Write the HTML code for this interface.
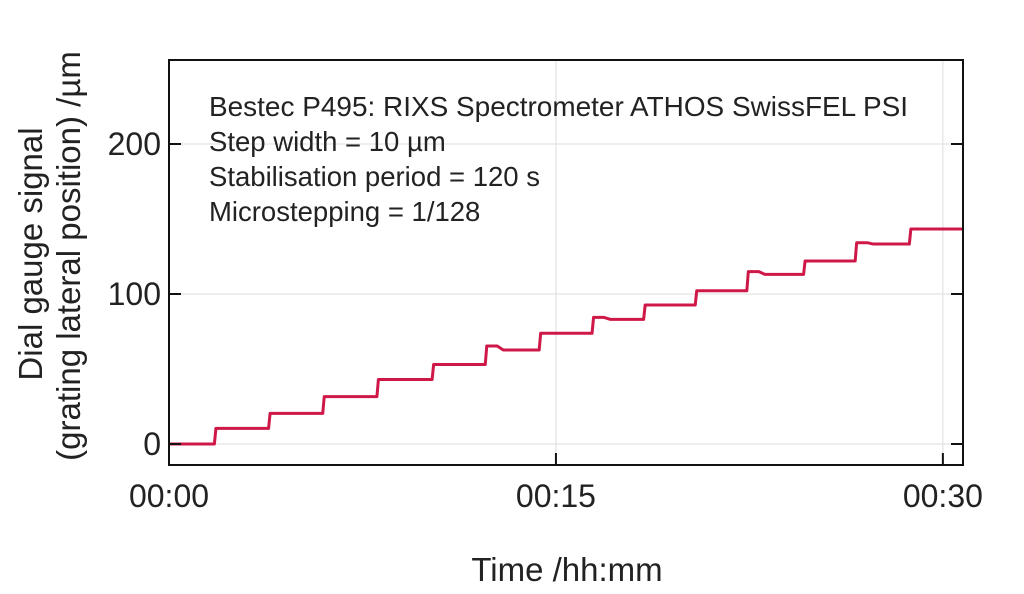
<!DOCTYPE html>
<html><head><meta charset="utf-8"><style>
html,body{margin:0;padding:0;background:#fff;}
svg text{font-family:"Liberation Sans",sans-serif;fill:#222;}
</style></head><body>
<svg id="chart" width="1024" height="589" viewBox="0 0 1024 589" xmlns="http://www.w3.org/2000/svg">
<g id="grid"></g>
<g id="series"></g>
<rect x="169" y="60" width="794" height="405" fill="none" stroke="#111" stroke-width="2"/>
<g id="ticks"></g>
<g font-size="27.5">
<text x="209" y="116" textLength="699" lengthAdjust="spacingAndGlyphs">Bestec P495: RIXS Spectrometer ATHOS SwissFEL PSI</text>
<text x="209" y="151">Step width = 10 µm</text>
<text x="209" y="186">Stabilisation period = 120 s</text>
<text x="209" y="221">Microstepping = 1/128</text>
</g>
<text x="567" y="581" font-size="33" text-anchor="middle">Time /hh:mm</text>
<g font-size="33" text-anchor="middle">
<text x="0" y="0" transform="translate(42,254) rotate(-90)">Dial gauge signal</text>
<text x="0" y="0" transform="translate(80,256) rotate(-90)">(grating lateral position) /µm</text>
</g>
</svg>
<script>
// data (minutes, µm)
const stepTimes = [1.76, 3.86, 5.96, 8.06, 10.2, 12.26, 14.35, 16.4, 18.4, 20.4, 22.4, 24.6, 26.6, 28.7];
const levels = [0, 10.4, 20.4, 31.6, 43, 53, 62.7, 73.8, 83.1, 92.7, 102.2, 113.1, 122, 133.3, 143.3];
const peaks = [0, 10.4, 20.4, 31.6, 43, 53, 65.3, 73.8, 84.4, 92.7, 102.2, 114.9, 122, 134.2, 143.3];
const endTime = 30.8;
const xTicks = [0, 15, 30];
const xTickLabels = ["00:00", "00:15", "00:30"];
const yTicks = [0, 100, 200];
const yTickLabels = ["0", "100", "200"];

const X0=169, X1=963, Y0=465, Y1=60;
const xMin=0, xMax=30.78, yMin=-14, yMax=256;
const sx = t => X0 + (t-xMin)/(xMax-xMin)*(X1-X0);
const sy = v => Y0 - (v-yMin)/(yMax-yMin)*(Y0-Y1);
const NS="http://www.w3.org/2000/svg";
function mk(tag, attrs, parent){const e=document.createElementNS(NS,tag);for(const k in attrs)e.setAttribute(k,attrs[k]);parent.appendChild(e);return e;}
const grid=document.getElementById('grid'), ticks=document.getElementById('ticks'), series=document.getElementById('series');

yTicks.forEach((v,i)=>{
  const g=mk('line',{x1:X0,x2:X1,y1:sy(v),y2:sy(v),stroke:'#ddd','stroke-width':1},grid);
  
  
  const a=mk('line',{x1:X0,x2:X0+12,y1:sy(v),y2:sy(v),stroke:'#111','stroke-width':2},ticks);
  
  
  const b=mk('line',{x1:X1-12,x2:X1,y1:sy(v),y2:sy(v),stroke:'#111','stroke-width':2},ticks);
  
  
  const t=mk('text',{x:X0-8,y:sy(v)+11,'font-size':32,'text-anchor':'end'},ticks);
  t.textContent=yTickLabels[i];
  
  
});
xTicks.forEach((v,i)=>{
  const g=mk('line',{x1:sx(v),x2:sx(v),y1:Y1,y2:Y0,stroke:'#ddd','stroke-width':1},grid);
  
  
  const a=mk('line',{x1:sx(v),x2:sx(v),y1:Y0-12,y2:Y0,stroke:'#111','stroke-width':2},ticks);
  
  
  const t=mk('text',{x:sx(v),y:Y0+42,'font-size':32,'text-anchor':'middle'},ticks);
  t.textContent=xTickLabels[i];
  
  
});

let d='M'+sx(0)+','+sy(levels[0]);
stepTimes.forEach((t,i)=>{
  const x=sx(t);
  d+=' L'+x+','+sy(levels[i]);
  d+=' L'+(x+1.5)+','+sy(peaks[i+1]);
  if(peaks[i+1]!==levels[i+1]){
    d+=' L'+(x+12)+','+sy(peaks[i+1])+' L'+(x+18)+','+sy(levels[i+1]);
  }
});
d+=' L'+sx(endTime)+','+sy(levels[levels.length-1]);
const p=mk('path',{d:d,fill:'none',stroke:'#cf1848','stroke-width':3,'stroke-linejoin':'round'},series);


</script>
</body></html>
